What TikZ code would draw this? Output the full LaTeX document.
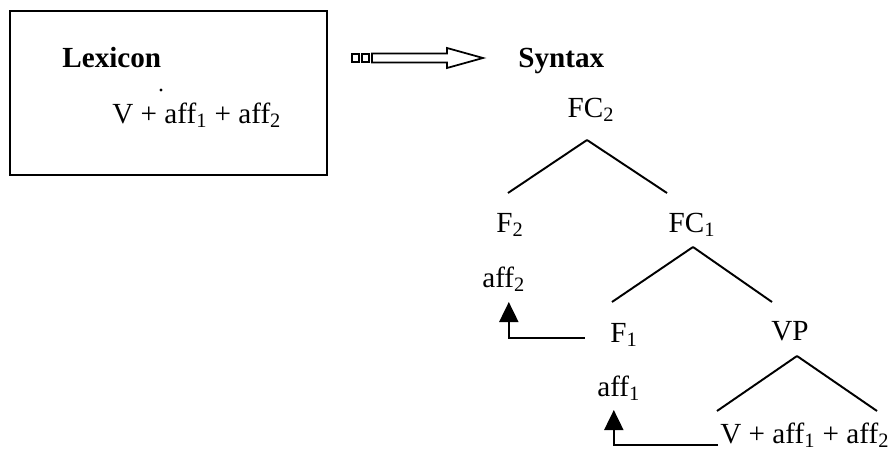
\documentclass[tikz,border=0pt]{standalone}
\usepackage{fontspec}
\setmainfont{Liberation Serif}
\usetikzlibrary{arrows.meta,calc}

\begin{document}
\begin{tikzpicture}[x=0.02cm, y=-0.02cm,
    every node/.style={font=\fontsize{16.6}{19}\selectfont, inner sep=0pt},
    lx/.style={anchor=base west},
    tr/.style={anchor=base},
    br/.style={line width=1.1pt},
    mv/.style={line width=1.1pt, -{Triangle[length=4mm, width=3.8mm]}},
    fat/.style={line width=1pt, line join=miter},
  ]
  \useasboundingbox (0,0) rectangle (890,450);
  % lexicon box
  \node[draw, line width=1.1pt, minimum width=6.34cm, minimum height=3.28cm] (lexbox) at (168.5,93) {};
  \node[lx] (lex) at (62,67) {\textbf{Lexicon}};
  \node[lx] (lexv) at (112,123) {V + aff\textsubscript{1} + aff\textsubscript{2}};
  \fill (161,90) circle (0.9pt);
  % hollow arrow to syntax
  \coordinate (fa) at (372,58);
  \coordinate (fb) at (483,58);
  \draw[fat] (352,54) rectangle (359,62);
  \draw[fat] (362,54) rectangle (369,62);
  \draw[fat] (fa) ++(0,-4.5) -- ++(75,0) -- ++(0,-5.5) -- (fb) -- ++(-36,10) -- ++(0,-5.5) -- ++(-75,0) -- cycle;
  \node[lx] (syn) at (518,67) {\textbf{Syntax}};
  % tree
  \node[tr] (fc2) at (591,117) {FC\textsubscript{2}};
  \node[tr] (f2) at (510,232) {F\textsubscript{2}};
  \node[tr] (fc1) at (692,232) {FC\textsubscript{1}};
  \node[lx] (aff2) at (482,287) {aff\textsubscript{2}};
  \node[tr] (f1) at (624,342) {F\textsubscript{1}};
  \node[tr] (vp) at (790,340) {VP};
  \node[lx] (aff1) at (597,396) {aff\textsubscript{1}};
  \node[lx] (vb) at (720,443) {V + aff\textsubscript{1} + aff\textsubscript{2}};
  \draw[br] ($(fc2.base)+(-4,23)$) -- ($(f2.base)+(-2,-39)$);
  \draw[br] ($(fc2.base)+(-4,23)$) -- ($(fc1.base)+(-25,-39)$);
  \draw[br] ($(fc1.base)+(1,15)$) -- ($(f1.base)+(-12,-40)$);
  \draw[br] ($(fc1.base)+(1,15)$) -- ($(vp.base)+(-18,-38)$);
  \draw[br] ($(vp.base)+(7,16)$) -- ($(vb.base west)+(-3,-32)$);
  \draw[br] ($(vp.base)+(7,16)$) -- ($(vb.base west)+(157,-32)$);
  % movement
  \draw[mv] ($(f1.base west)+(-25,-4)$) -| ($(aff2.base)+(5,15)$);
  \draw[mv] ($(vb.base west)+(-2,2)$) -| ($(aff1.base)+(-5,14)$);
\end{tikzpicture}
\end{document}
